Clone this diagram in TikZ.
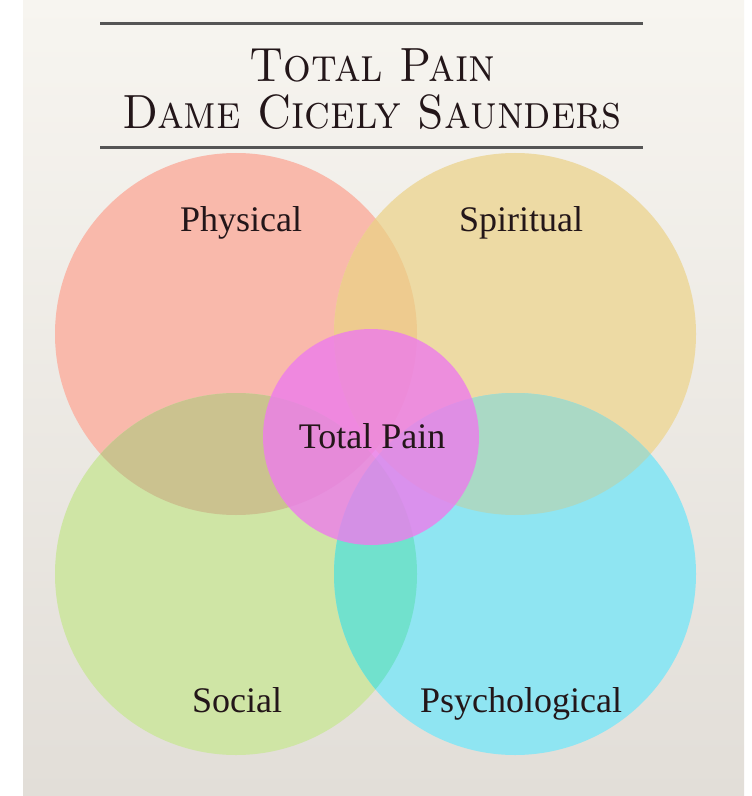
\documentclass[tikz,border=0pt]{standalone}
\usepackage{fontspec}
\usepackage{graphicx}
\newfontfamily\lblfont{Liberation Serif}
\newcommand{\ttlsq}[1]{\scalebox{0.91}[1]{#1}}
\definecolor{physcol}{RGB}{249,185,171}
\definecolor{spircol}{RGB}{237,218,164}
\definecolor{soccol}{RGB}{207,229,165}
\definecolor{psycol}{RGB}{143,229,242}
\definecolor{pycol}{RGB}{238,203,143}
\definecolor{pgcol}{RGB}{203,194,143}
\definecolor{yccol}{RGB}{170,217,197}
\definecolor{gccol}{RGB}{113,225,205}
\definecolor{totcol}{RGB}{237,124,236}
\definecolor{bgtop}{RGB}{247,245,240}
\definecolor{bgbot}{RGB}{226,222,216}
\definecolor{rulecol}{RGB}{85,85,85}
\definecolor{inkcol}{RGB}{35,22,25}

\begin{document}
\begin{tikzpicture}[x=0.5pt,y=-0.5pt,
    lbl/.style={font=\lblfont\fontsize{18}{20}\selectfont, text=inkcol, anchor=base, inner sep=0pt},
    ttl/.style={font=\fontsize{24}{26}\selectfont\scshape, text=inkcol, anchor=base, inner sep=0pt}]
  \def\rad{181}

     % -------------------------
     % Background
     % -------------------------
      \useasboundingbox (0,0) rectangle (751,796);
      \fill[white] (0,0) rectangle (751,796);
      \shade[top color=bgtop, bottom color=bgbot] (23,0) rectangle (744,796);

      % Circle centres
      \coordinate (phys) at (236,334);
      \coordinate (spir) at (515,334);
      \coordinate (soc) at (236,574);
      \coordinate (psy) at (515,574);
      \coordinate (tot) at (371,437);

      % Four outer circles
      \fill[physcol] (phys) circle (\rad);
      \fill[spircol] (spir) circle (\rad);
      \fill[soccol] (soc) circle (\rad);
      \fill[psycol] (psy) circle (\rad);

      % Overlaps
      \begin{scope}
        \clip (phys) circle (\rad);
        \fill[pycol] (spir) circle (\rad);
        \fill[pgcol] (soc) circle (\rad);
      \end{scope}
      \begin{scope}
        \clip (psy) circle (\rad);
        \fill[yccol] (spir) circle (\rad);
        \fill[gccol] (soc) circle (\rad);
      \end{scope}

      % Centre circle
      \fill[totcol, fill opacity=0.8] (tot) circle (108);

      % Labels
      \node[lbl] (physlbl) at (241,232) {Physical};
      \node[lbl] (spirlbl) at (521,232) {Spiritual};
      \node[lbl] (totlbl) at (372,448) {Total Pain};
      \node[lbl] (soclbl) at (237,712) {Social};
      \node[lbl] (psylbl) at (521,712) {Psychological};

      % Title between two rules
      \coordinate (ruleAl) at (100,24);
      \coordinate (ruleAr) at (643,24);
      \coordinate (ruleBl) at (100,148);
      \coordinate (ruleBr) at (643,148);
      \draw[rulecol, line width=1.5pt] (ruleAl) -- (ruleAr);
      \draw[rulecol, line width=1.5pt] (ruleBl) -- (ruleBr);
      \node[ttl] (ttlA) at (372,82) {\ttlsq{Total Pain}};
      \node[ttl] (ttlB) at (372,129) {\ttlsq{Dame Cicely Saunders}};
\end{tikzpicture}
\end{document}
